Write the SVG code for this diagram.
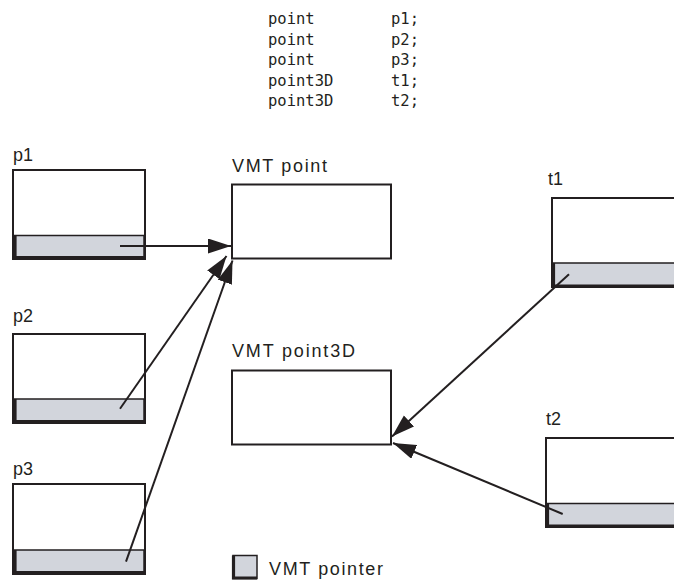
<svg xmlns="http://www.w3.org/2000/svg" width="674" height="583" viewBox="0 0 674 583">
<defs>
<style>
.box{fill:#ffffff;stroke:#231f20;stroke-width:2}
.bar{fill:#d2d5dc;stroke:#231f20;stroke-width:1.5}
.thick{fill:none;stroke:#231f20;stroke-width:3.2}
.lbl{font-family:"Liberation Sans",Arial,sans-serif;font-size:18px;fill:#231f20}
.code{font-family:"DejaVu Sans Mono","Liberation Mono",monospace;font-size:15.5px;fill:#231f20}
.conn{fill:none;stroke:#231f20;stroke-width:2}
</style>
<marker id="ah" markerUnits="userSpaceOnUse" markerWidth="24" markerHeight="16" refX="23" refY="7.5" orient="auto">
<path d="M0,0 L23,7.5 L0,15 Z" fill="#231f20"/>
</marker>
</defs>
<rect width="674" height="583" fill="#ffffff"/>
<g id="code">
<text class="code" x="268" y="24">point</text><text class="code" x="391" y="24">p1;</text>
<text class="code" x="268" y="44.5">point</text><text class="code" x="391" y="44.5">p2;</text>
<text class="code" x="268" y="65">point</text><text class="code" x="391" y="65">p3;</text>
<text class="code" x="268" y="85.5">point3D</text><text class="code" x="391" y="85.5">t1;</text>
<text class="code" x="268" y="106">point3D</text><text class="code" x="391" y="106">t2;</text>
</g>
<g id="p1">
<text class="lbl" x="13" y="161">p1</text>
<rect class="box" x="13" y="170" width="132" height="89"/>
<rect class="bar" x="14.5" y="235.5" width="129.5" height="22"/>
<path class="thick" d="M15,235 V257.5 H144"/>
</g>
<g id="p2">
<text class="lbl" x="13" y="322">p2</text>
<rect class="box" x="13" y="334" width="132" height="89"/>
<rect class="bar" x="14.5" y="399" width="129.5" height="22.5"/>
<path class="thick" d="M15,399 V421.5 H144"/>
</g>
<g id="p3">
<text class="lbl" x="13" y="475">p3</text>
<rect class="box" x="13" y="484" width="132" height="90"/>
<rect class="bar" x="14.5" y="550" width="129.5" height="22.5"/>
<path class="thick" d="M15,550 V572.5 H144"/>
</g>
<g id="vmt_point">
<text class="lbl" x="232" y="172" textLength="95" lengthAdjust="spacing">VMT point</text>
<rect class="box" x="232" y="184.5" width="159" height="74"/>
</g>
<g id="vmt_point3D">
<text class="lbl" x="232" y="357" textLength="123" lengthAdjust="spacing">VMT point3D</text>
<rect class="box" x="232" y="370.5" width="159" height="74"/>
</g>
<g id="t1">
<text class="lbl" x="548" y="185">t1</text>
<path class="box" d="M680,198 H552 V287 H680"/>
<rect class="bar" x="553.5" y="263" width="125" height="23"/>
<path class="thick" d="M553.5,263 V286 H680"/>
</g>
<g id="t2">
<text class="lbl" x="546" y="425">t2</text>
<path class="box" d="M680,438 H546 V527 H680"/>
<rect class="bar" x="547.5" y="503.5" width="130" height="23"/>
<path class="thick" d="M547.5,503.5 V526 H680"/>
</g>
<g id="legend">
<rect class="bar" x="233" y="555.5" width="24" height="23"/>
<path class="thick" d="M233.5,555.5 V578 H257"/>
<text class="lbl" x="269" y="575" textLength="114" lengthAdjust="spacing">VMT pointer</text>
</g>
<g id="connectors">
<line class="conn" x1="120" y1="246" x2="231" y2="246" marker-end="url(#ah)"/>
<line class="conn" x1="120" y1="408.7" x2="226.5" y2="256" marker-end="url(#ah)"/>
<line class="conn" x1="126" y1="561.7" x2="232.5" y2="260.5" marker-end="url(#ah)"/>
<line class="conn" x1="569" y1="274.3" x2="392" y2="436.5" marker-end="url(#ah)"/>
<line class="conn" x1="562.7" y1="514" x2="393" y2="443" marker-end="url(#ah)"/>
</g>
</svg>
